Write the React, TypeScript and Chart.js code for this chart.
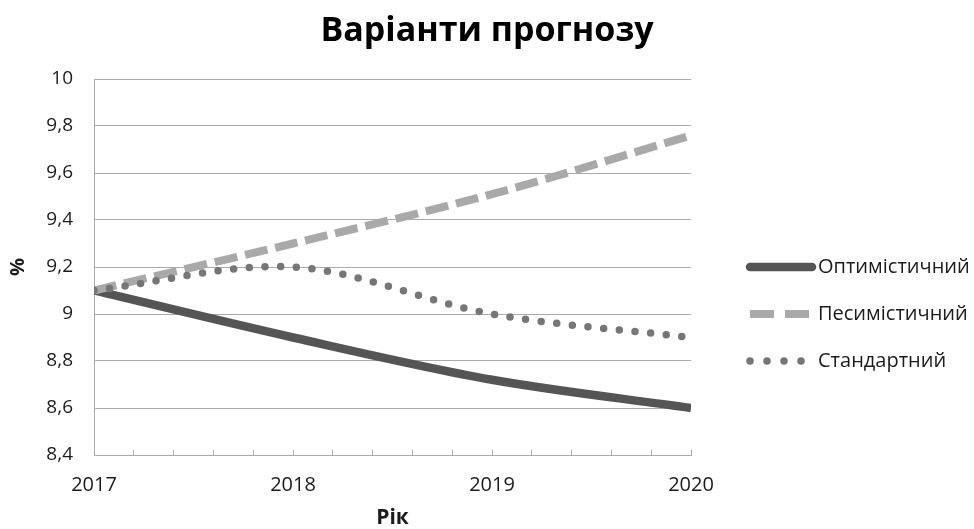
import React, { useEffect, useRef } from 'react';
import { Chart, registerables } from 'chart.js';

Chart.register(...registerables);

// ---- data ----
const years = [2017, 2018, 2019, 2020];
const optimistic = [9.1, 8.9, 8.72, 8.6];
const pessimistic = [9.1, 9.3, 9.51, 9.76];
const standard = [9.1, 9.2, 9.0, 8.9];
const seriesNames = ['Оптимістичний', 'Песимістичний', 'Стандартний'];
const chartTitle = 'Варіанти прогнозу';
const xTitle = 'Рік';
const yTitle = '%';
const yMin = 8.4;
const yMax = 10;
const yStep = 0.2;
const xMin = 2017;
const xMax = 2020;
const xMinorStep = 0.2;

const FONT = "'Open Sans', 'DejaVu Sans', sans-serif";
const TEXT = '#1c1c1c';
const GRID = '#ababab';

const toPoints = (vals: number[]) => years.map((x, i) => ({ x, y: vals[i] }));

const titlePlugin = {
  id: 'centerTitle',
  afterDraw(chart: any) {
    const ctx = chart.ctx;
    ctx.save();
    ctx.fillStyle = '#000';
    ctx.font = `bold 34px ${FONT}`;
    ctx.textAlign = 'center';
    ctx.textBaseline = 'middle';
    ctx.fillText(chartTitle, chart.width / 2, 31);
    ctx.restore();
  },
};

const legendPlugin = {
  id: 'customLegend',
  afterDraw(chart: any) {
    const ctx = chart.ctx;
    const x0 = 750;
    const len = 62;
    const y0 = 267;
    const gap = 47;
    chart.data.datasets.forEach((ds: any, i: number) => {
      const y = y0 + i * gap;
      ctx.save();
      ctx.strokeStyle = ds.borderColor;
      ctx.lineWidth = ds.borderWidth;
      ctx.setLineDash(ds.legendDash || []);
      ctx.lineCap = ds.legendCap || 'butt';
      ctx.beginPath();
      ctx.moveTo(x0, y);
      ctx.lineTo(x0 + len, y);
      ctx.stroke();
      ctx.restore();
      ctx.save();
      ctx.fillStyle = TEXT;
      ctx.font = `20px ${FONT}`;
      ctx.textBaseline = 'middle';
      ctx.textAlign = 'left';
      ctx.fillText(ds.label, x0 + len + 6, y);
      ctx.restore();
    });
  },
};

export default function App() {
  const ref = useRef<HTMLCanvasElement | null>(null);

  useEffect(() => {
    if (!ref.current) return;
    const chart = new Chart(ref.current, {
      type: 'line',
      data: {
        datasets: [
          {
            label: seriesNames[0],
            data: toPoints(optimistic),
            borderColor: '#555555',
            borderWidth: 8.5,
            borderCapStyle: 'butt',
            tension: 0.33,
            pointRadius: 0,
            order: 3,
            legendCap: 'round',
          } as any,
          {
            label: seriesNames[1],
            data: toPoints(pessimistic),
            borderColor: '#a9a9a9',
            borderWidth: 8,
            borderDash: [23, 8],
            borderCapStyle: 'butt',
            tension: 0.33,
            pointRadius: 0,
            order: 2,
            legendDash: [24, 11],
          } as any,
          {
            label: seriesNames[2],
            data: toPoints(standard),
            borderColor: '#767676',
            borderWidth: 7.5,
            borderDash: [0, 15.7],
            borderCapStyle: 'round',
            tension: 0.33,
            pointRadius: 0,
            order: 1,
            legendDash: [0, 17],
            legendCap: 'round',
          } as any,
        ],
      },
      options: {
        animation: false,
        responsive: true,
        maintainAspectRatio: false,
        layout: { padding: { left: 0, right: 283, top: 79, bottom: 0 } },
        plugins: {
          legend: { display: false },
          tooltip: { enabled: false },
          title: { display: false },
        },
        scales: {
          x: {
            type: 'linear',
            min: xMin,
            max: xMax,
            afterFit: (s: any) => {
              s.height = 74;
            },
            ticks: {
              stepSize: xMinorStep,
              autoSkip: false,
              maxRotation: 0,
              minRotation: 0,
              padding: 23,
              color: TEXT,
              font: { family: FONT, size: 20 },
              callback: (v: any) => {
                const n = Number(v);
                return Math.abs(n - Math.round(n)) < 1e-6 ? String(Math.round(n)) : '';
              },
            },
            grid: {
              drawOnChartArea: false,
              drawTicks: true,
              tickLength: -5,
              color: GRID,
              lineWidth: 1,
            },
            border: { display: true, color: GRID, width: 1 },
            title: {
              display: true,
              text: xTitle,
              color: TEXT,
              font: { family: FONT, size: 21, weight: 'bold', lineHeight: 1.2 },
              padding: { top: 0, bottom: -2 },
            },
          },
          y: {
            type: 'linear',
            min: yMin,
            max: yMax,
            afterFit: (s: any) => {
              s.width = 94;
            },
            ticks: {
              stepSize: yStep,
              padding: 21,
              color: TEXT,
              font: { family: FONT, size: 19 },
              callback: (v: any) => String(Math.round(Number(v) * 10) / 10).replace('.', ','),
            },
            grid: { drawTicks: false, color: GRID, lineWidth: 1 },
            border: { display: true, color: GRID, width: 1 },
            title: {
              display: true,
              text: yTitle,
              color: TEXT,
              font: { family: FONT, size: 20, weight: 'bold', lineHeight: 1.2 },
              padding: { top: 6, bottom: 0 },
            },
          },
        },
      },
      plugins: [titlePlugin, legendPlugin],
    });
    return () => chart.destroy();
  }, []);

  return (
    <div style={{ position: 'fixed', left: 0, top: 0, width: 974, height: 529, background: '#fff' }}>
      <canvas ref={ref} />
    </div>
  );
}
